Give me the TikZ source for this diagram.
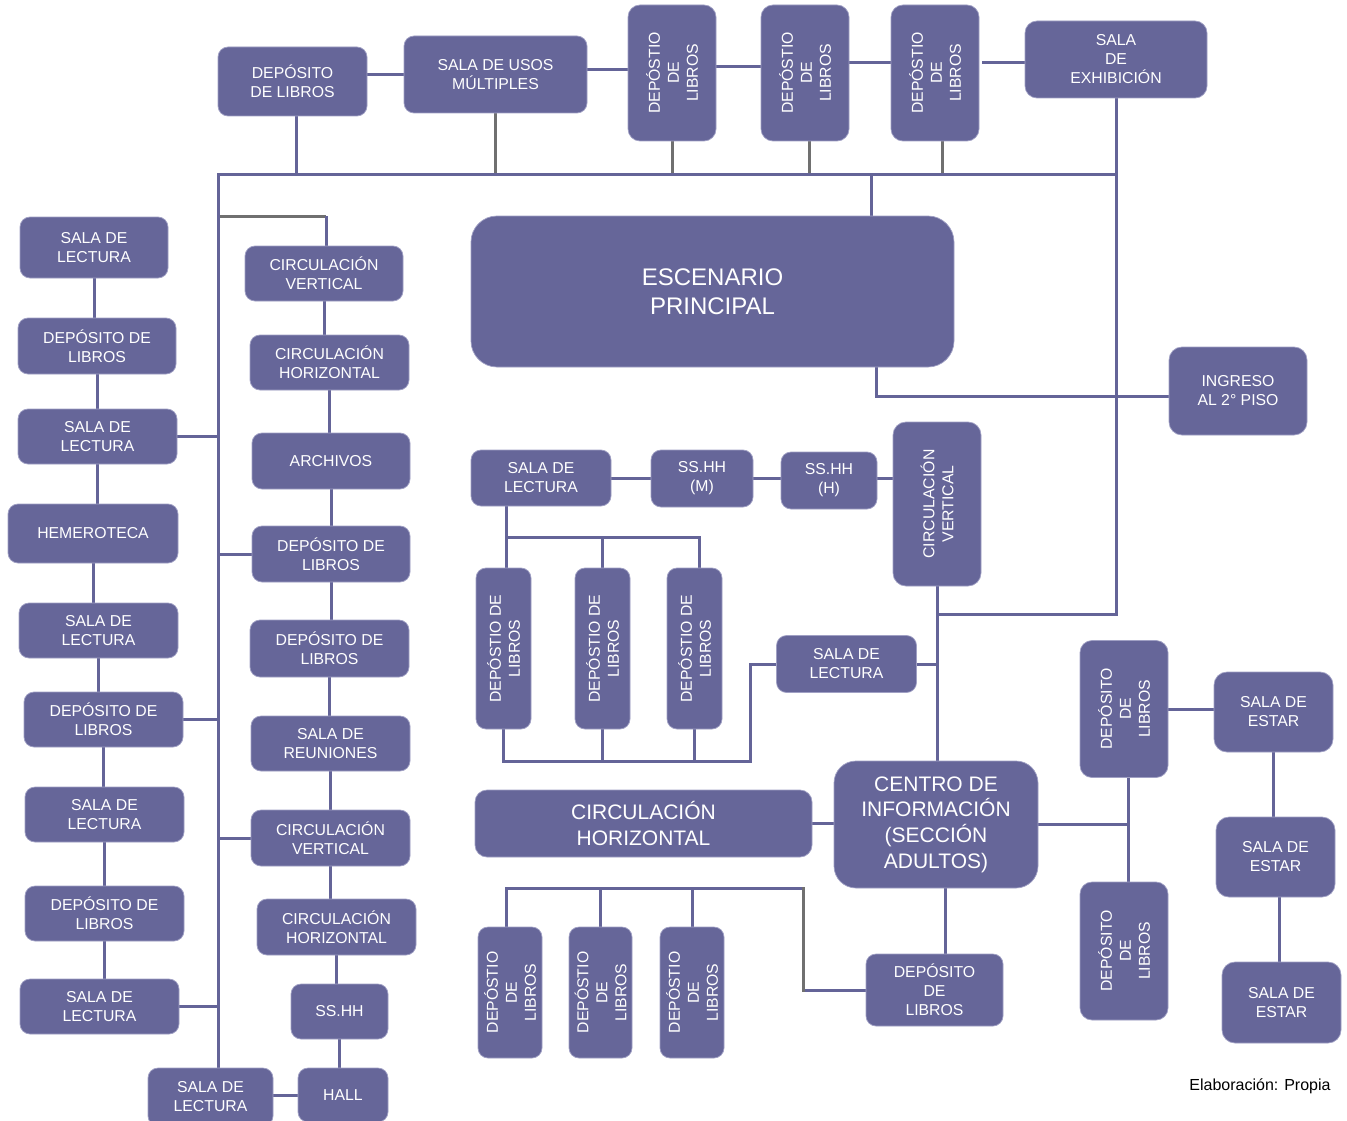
\documentclass[tikz,border=0pt]{standalone}
\usepackage{fontspec}
\setmainfont{Liberation Sans}
\pgfdeclarelayer{bg}
\pgfsetlayers{bg,main}
\definecolor{boxc}{RGB}{102,102,153}
\definecolor{linec}{RGB}{100,100,152}
\definecolor{grayc}{RGB}{112,112,112}
\definecolor{edgec}{RGB}{160,160,196}
\tikzset{
  sz/.style 2 args={minimum width=#1pt, minimum height=#2pt},
  box/.style={rectangle, rounded corners=10pt, fill=boxc, draw=edgec, line width=0.7pt,
    text=white, align=center, inner sep=0pt, font=\fontsize{15.8}{19}\selectfont},
  bigbox/.style={box, font=\fontsize{21}{25.7}\selectfont},
  vt/.style={rotate=90, text=white, align=center, inner sep=0pt, font=\fontsize{15.8}{19}\selectfont},
  ln/.style={draw=linec, line width=3pt},
  lg/.style={draw=grayc, line width=3pt},
}
\begin{document}
\begin{tikzpicture}[x=1pt,y=-1pt]
\useasboundingbox (0,0) rectangle (1347,1121);
% ---------- top row
\node[box,sz={149}{69}] (tdep) at (292.5,81.5) {DEPÓSITO\\DE LIBROS};
\node[box,sz={183}{77}] (tsum) at (495.5,74.5) {SALA DE USOS\\MÚLTIPLES};
\node[box,sz={88}{136},rounded corners=12pt] (td1) at (672,73) {};
\node[vt] (td1t) at (td1) {DEPÓSTIO\\DE\\LIBROS};
\node[box,sz={88}{136},rounded corners=12pt] (td2) at (805,73) {};
\node[vt] (td2t) at (td2) {DEPÓSTIO\\DE\\LIBROS};
\node[box,sz={88}{136},rounded corners=12pt] (td3) at (935,73) {};
\node[vt] (td3t) at (td3) {DEPÓSTIO\\DE\\LIBROS};
\node[box,sz={182}{77},rounded corners=12pt] (texh) at (1116,59.5) {SALA\\DE\\EXHIBICIÓN};
% ---------- escenario / ingreso
\node[box,sz={483}{151},rounded corners=26pt,font=\fontsize{24}{29}\selectfont] (esc) at (712.5,291.5) {ESCENARIO\\PRINCIPAL};
\node[box,sz={138}{88},rounded corners=13pt] (ing) at (1238,391) {INGRESO\\AL 2° PISO};
% ---------- column A
\node[box,sz={148}{61}] (a1) at (94,247.5) {SALA DE\\LECTURA};
\node[box,sz={158}{56}] (a2) at (97,346) {DEPÓSITO DE\\LIBROS};
\node[box,sz={159}{55}] (a3) at (97.5,436.5) {SALA DE\\LECTURA};
\node[box,sz={170}{59}] (a4) at (93,533.5) {HEMEROTECA};
\node[box,sz={159}{55}] (a5) at (98.5,630.5) {SALA DE\\LECTURA};
\node[box,sz={159}{55}] (a6) at (103.5,719.5) {DEPÓSITO DE\\LIBROS};
\node[box,sz={159}{55}] (a7) at (104.5,814.5) {SALA DE\\LECTURA};
\node[box,sz={159}{55}] (a8) at (104.5,913.5) {DEPÓSITO DE\\LIBROS};
\node[box,sz={159}{55}] (a9) at (99.5,1006.5) {SALA DE\\LECTURA};
% ---------- column B
\node[box,sz={158}{55}] (b1) at (324,273.5) {CIRCULACIÓN\\VERTICAL};
\node[box,sz={159}{55}] (b2) at (329.5,362.5) {CIRCULACIÓN\\HORIZONTAL};
\node[box,sz={158}{56}] (b3) at (331,461) {ARCHIVOS};
\node[box,sz={158}{56}] (b4) at (331,554) {DEPÓSITO DE\\LIBROS};
\node[box,sz={159}{57}] (b5) at (329.5,648.5) {DEPÓSITO DE\\LIBROS};
\node[box,sz={159}{55}] (b6) at (330.5,743.5) {SALA DE\\REUNIONES};
\node[box,sz={159}{56}] (b7) at (330.5,838) {CIRCULACIÓN\\VERTICAL};
\node[box,sz={159}{56}] (b8) at (336.5,927) {CIRCULACIÓN\\HORIZONTAL};
\node[box,sz={97}{55}] (b9) at (339.5,1011.5) {SS.HH};
\node[box,sz={90}{54}] (hall) at (343,1095) {HALL};
\node[box,sz={125}{58}] (bsl) at (210.5,1097) {SALA DE\\LECTURA};
% ---------- centre
\node[box,sz={140}{56}] (csl) at (541,478) {SALA DE\\LECTURA};
\node[box,sz={102}{57}] (cm) at (702,478.5) {SS.HH\\(M)};
\node[box,sz={96}{57}] (chh) at (829,480.5) {SS.HH\\(H)};
\node[box,sz={88}{164},rounded corners=13pt] (cv) at (937,504) {};
\node[vt] (cvt) at (cv) {CIRCULACIÓN\\VERTICAL};
\node[box,sz={55}{161}] (m1) at (503.5,648.5) {};
\node[vt] (m1t) at (m1) {DEPÓSTIO DE\\LIBROS};
\node[box,sz={55}{161}] (m2) at (602.5,648.5) {};
\node[vt] (m2t) at (m2) {DEPÓSTIO DE\\LIBROS};
\node[box,sz={55}{161}] (m3) at (694.5,648.5) {};
\node[vt] (m3t) at (m3) {DEPÓSTIO DE\\LIBROS};
\node[box,sz={140}{57}] (csl2) at (846.5,664) {SALA DE\\LECTURA};
\node[bigbox,sz={337}{67},rounded corners=12pt] (ch) at (643.5,823.5) {CIRCULACIÓN\\HORIZONTAL};
\node[bigbox,sz={204}{127},rounded corners=22pt] (cen) at (936,824.5) {CENTRO DE\\INFORMACIÓN\\(SECCIÓN\\ADULTOS)};
% ---------- right
\node[box,sz={88}{137},rounded corners=12pt] (rd1) at (1124,709) {};
\node[vt] (rd1t) at (rd1) {DEPÓSITO\\DE\\LIBROS};
\node[box,sz={88}{138},rounded corners=12pt] (rd2) at (1124,951) {};
\node[vt] (rd2t) at (rd2) {DEPÓSITO\\DE\\LIBROS};
\node[box,sz={119}{80},rounded corners=13pt] (se1) at (1273.5,712) {SALA DE\\ESTAR};
\node[box,sz={119}{80},rounded corners=13pt] (se2) at (1275.5,857) {SALA DE\\ESTAR};
\node[box,sz={119}{81},rounded corners=13pt] (se3) at (1281.5,1002.5) {SALA DE\\ESTAR};
% ---------- bottom row
\node[box,sz={64}{131}] (n1) at (510,992.5) {};
\node[vt] (n1t) at (n1) {DEPÓSTIO\\DE\\LIBROS};
\node[box,sz={63}{131}] (n2) at (600.5,992.5) {};
\node[vt] (n2t) at (n2) {DEPÓSTIO\\DE\\LIBROS};
\node[box,sz={64}{131}] (n3) at (692,992.5) {};
\node[vt] (n3t) at (n3) {DEPÓSTIO\\DE\\LIBROS};
\node[box,sz={137}{72}] (bdl) at (934.5,990) {DEPÓSITO\\DE\\LIBROS};
% ---------- source
\node[font=\fontsize{16}{19}\selectfont, text=black, inner sep=0pt] (src) at (1260,1086) {Elaboración: Propia};

% ---------- connectors
\coordinate (bus1) at (218,175);
\coordinate (bus2) at (1116,175);
\coordinate (h70) at (0,70);
\coordinate (h67) at (0,67);
\coordinate (h63) at (0,63);
\coordinate (x296) at (296,175);
\coordinate (x809) at (809,175);
\coordinate (x942) at (942,175);
\coordinate (x871) at (871,175);
\coordinate (i1) at (876,396);
\coordinate (e614) at (0,614);
\coordinate (g1) at (218,216);
\coordinate (g2) at (326,216);
\coordinate (x506) at (506,0);
\coordinate (k537) at (0,537);
\coordinate (k699) at (699,537);
\coordinate (b761) at (750,761);
\coordinate (rv) at (1128,0);
\coordinate (x945) at (945,0);
\coordinate (q2) at (803,888);
\begin{pgfonlayer}{bg}
\fill[white] (0,0) rectangle (1347,1121);
% top row
\draw[ln] (tdep.east |- tsum.west) -- (tsum.west);
\draw[ln] (tsum.east |- h70) -- (td1.west |- h70);
\draw[ln] (td1.east |- h67) -- (td2.west |- h67);
\draw[ln] (td2.east |- h63) -- (td3.west |- h63);
\draw[ln] ([xshift=3pt]td3.east |- h63) -- (texh.west |- h63);
\draw[ln] (tdep.south -| x296) -- (x296);
\draw[lg] (tsum.south) -- (tsum.south |- bus1);
\draw[lg] (td1.south) -- (td1.south |- bus1);
\draw[lg] (td2.south -| x809) -- (x809);
\draw[lg] (td3.south -| x942) -- (x942);
\draw[lg] (g1) -- (g2);
\draw[ln] (g2) -- (g2 |- b1.north);
\draw[ln] (bus1 |- bsl.north) -- (bus1) -- (bus2);
\draw[ln] (texh.south) -- (texh.south |- e614) -- (cv.south |- e614);
\draw[ln] (x871) -- (x871 |- esc.north);
\draw[ln] (esc.south -| i1) -- (i1) -- (i1 -| ing.west);
% column A
\foreach \p/\q in {a1/a2,a2/a3,a3/a4,a4/a5,a5/a6,a6/a7,a7/a8,a8/a9}
  \draw[ln] (\p.south) -- (\p.south |- \q.north);
\foreach \p in {a3,a6,a9}
  \draw[ln] (\p.east) -- (\p.east -| bus1);
% column B
\foreach \p/\q in {b1/b2,b2/b3,b3/b4,b4/b5,b5/b6,b6/b7,b7/b8,b8/b9,b9/hall}
  \draw[ln] (\p.south) -- (\p.south |- \q.north);
\foreach \p in {b4,b7}
  \draw[ln] (bus1 |- \p.west) -- (\p.west);
\draw[ln] (hall.west) -- (hall.west -| bsl.east);
% centre
\draw[ln] (csl.east) -- (cm.west |- csl.east);
\draw[ln] (cm.east |- csl.east) -- (chh.west |- csl.east);
\draw[ln] (chh.east |- csl.east) -- (cv.west |- csl.east);
\draw[ln] (csl.south -| x506) -- (m1.north -| x506);
\draw[ln] (x506 |- k537) -- (k699) -- (k699 |- m3.north);
\draw[ln] (m2.north |- k537) -- (m2.north);
\draw[ln] (m1.south) -- (m1.south |- b761) -- (b761) -- (b761 |- csl2.west) -- (csl2.west);
\draw[ln] (m2.south) -- (m2.south |- b761);
\draw[ln] (m3.south) -- (m3.south |- b761);
\draw[ln] (csl2.east) -- (csl2.east -| cv.south);
\draw[ln] (cv.south) -- (cv.south |- cen.north);
\draw[ln] (ch.east) -- (ch.east -| cen.west);
\draw[ln] (cen.east) -- (cen.east -| rv);
\draw[ln] (rd1.south -| rv) -- (rd2.north -| rv);
\draw[ln] (rd1.east) -- (rd1.east -| se1.west);
\draw[ln] (se1.south) -- (se1.south |- se2.north);
\draw[ln] ([xshift=4pt]se2.south) -- ([xshift=4pt]se2.south |- se3.north);
\draw[ln] (cen.south -| x945) -- (bdl.north -| x945);
% bottom row
\draw[ln] ([xshift=-4pt]n1.north) -- ([xshift=-4pt]n1.north |- q2) -- (q2);
\draw[ln] (n2.north) -- (n2.north |- q2);
\draw[ln] (n3.north) -- (n3.north |- q2);
\draw[ln] (q2 |- bdl.west) -- (bdl.west);
\draw[lg, line cap=rect] (q2) -- (q2 |- bdl.west);
\end{pgfonlayer}
\end{tikzpicture}
\end{document}
